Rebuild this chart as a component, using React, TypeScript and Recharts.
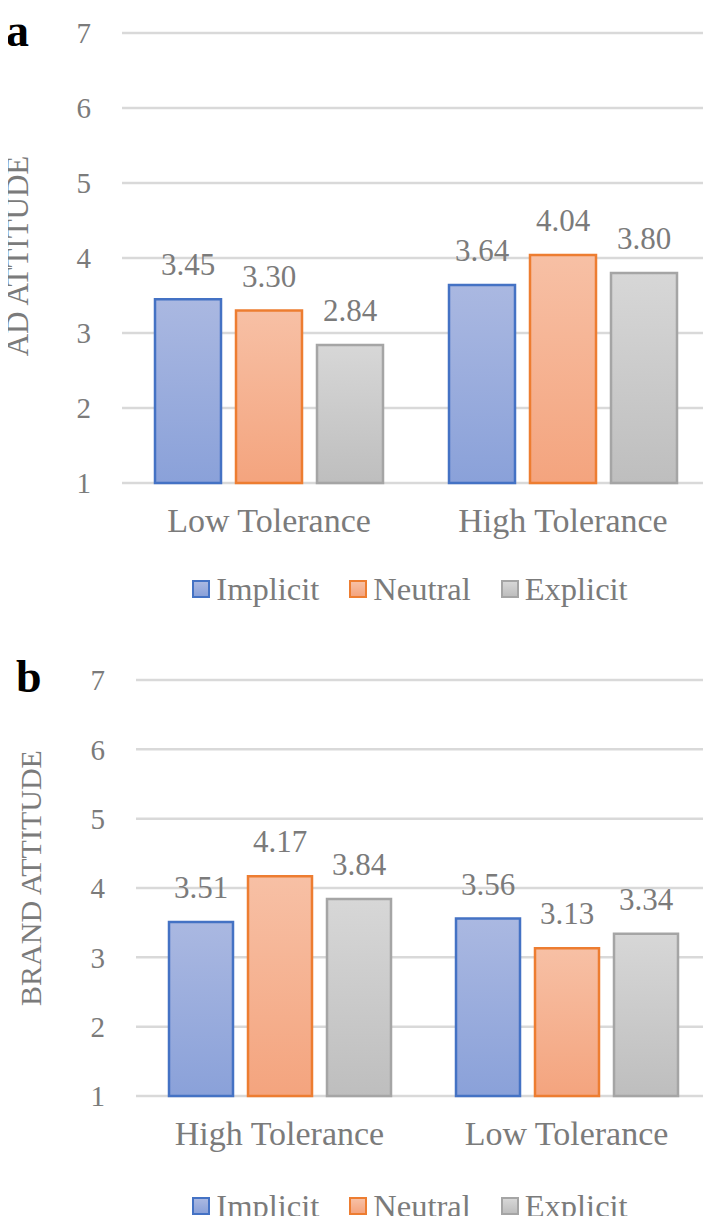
import { BarChart, Bar, XAxis, YAxis, CartesianGrid, Legend, LabelList } from 'recharts';

const SERIES = ['Implicit', 'Neutral', 'Explicit'];
const SERIES_KEYS = ['implicit', 'neutral', 'explicit'];

const A_CATEGORIES = ['Low Tolerance', 'High Tolerance'];
const A_IMPLICIT = [3.45, 3.64];
const A_NEUTRAL = [3.3, 4.04];
const A_EXPLICIT = [2.84, 3.8];

const B_CATEGORIES = ['High Tolerance', 'Low Tolerance'];
const B_IMPLICIT = [3.51, 3.56];
const B_NEUTRAL = [4.17, 3.13];
const B_EXPLICIT = [3.84, 3.34];

const Y_TICKS = [1, 2, 3, 4, 5, 6, 7];

const FONT = "'Liberation Serif', 'Times New Roman', serif";
const TEXT_COLOR = '#7b7b7b';
const STROKES = ['#4472c4', '#ed7d31', '#a5a5a5'];
const GRAD_TOP = ['#aab8e1', '#f7c0a5', '#d7d7d7'];
const GRAD_BOTTOM = ['#8aa1d9', '#f4a47e', '#bebebe'];

const toRows = (cats: string[], a: number[], b: number[], c: number[]) =>
  cats.map((name, i) => ({ name, implicit: a[i], neutral: b[i], explicit: c[i] }));

const A_ROWS = toRows(A_CATEGORIES, A_IMPLICIT, A_NEUTRAL, A_EXPLICIT);
const B_ROWS = toRows(B_CATEGORIES, B_IMPLICIT, B_NEUTRAL, B_EXPLICIT);

const Y_TICK_STYLE = { fill: TEXT_COLOR, fontSize: 29, fontFamily: FONT };
const X_TICK_STYLE = { fill: TEXT_COLOR, fontSize: 34, fontFamily: FONT };

function axisTitle(text: string, x: number, dy: number, size: number) {
  return (props: any) => {
    const vb = props.viewBox || {};
    const cy = (vb.y || 0) + (vb.height || 0) / 2 + dy;
    return (
      <text
        x={x}
        y={cy}
        transform={`rotate(-90 ${x} ${cy})`}
        textAnchor="middle"
        dominantBaseline="central"
        fill={TEXT_COLOR}
        fontSize={size}
        fontFamily={FONT}
      >
        {text}
      </text>
    );
  };
}

function SwatchLegend({ height, padTop }: { height: number; padTop: number }) {
  return (
    <div
      style={{
        display: 'flex',
        justifyContent: 'center',
        alignItems: 'center',
        gap: 30,
        height,
        paddingTop: padTop,
        boxSizing: 'border-box',
        fontFamily: FONT,
        fontSize: 32.5,
        color: TEXT_COLOR,
        whiteSpace: 'nowrap',
      }}
    >
      {SERIES.map((s, i) => (
        <span key={s} style={{ display: 'flex', alignItems: 'center' }}>
          <span
            style={{
              display: 'inline-block',
              width: 14,
              height: 14,
              border: `2.5px solid ${STROKES[i]}`,
              background: `linear-gradient(${GRAD_TOP[i]}, ${GRAD_BOTTOM[i]})`,
              marginRight: 6,
            }}
          />
          {s}
        </span>
      ))}
    </div>
  );
}

function Gradients({ prefix }: { prefix: string }) {
  return (
    <defs>
      {SERIES_KEYS.map((k, i) => (
        <linearGradient key={k} id={`${prefix}-${k}`} x1="0" y1="0" x2="0" y2="1">
          <stop offset="0%" stopColor={GRAD_TOP[i]} />
          <stop offset="100%" stopColor={GRAD_BOTTOM[i]} />
        </linearGradient>
      ))}
    </defs>
  );
}

interface PanelProps {
  id: string;
  rows: Record<string, string | number>[];
  height: number;
  marginTop: number;
  yAxisWidth: number;
  title: string;
  titleX: number;
  titleDy: number;
  titleSize: number;
  barSize: number;
  barGap: number;
  legendHeight: number;
  legendPad: number;
}

function Panel(p: PanelProps) {
  return (
    <BarChart
      width={711}
      height={p.height}
      data={p.rows}
      margin={{ top: p.marginTop, right: 1, left: 0, bottom: 0 }}
      barSize={p.barSize}
      barGap={p.barGap}
    >
      <Gradients prefix={p.id} />
      <CartesianGrid vertical={false} stroke="#d9d9d9" strokeWidth={2.5} />
      <XAxis
        dataKey="name"
        axisLine={false}
        tickLine={false}
        tickSize={0}
        tickMargin={25}
        height={70}
        tick={X_TICK_STYLE}
      />
      <YAxis
        domain={[1, 7]}
        ticks={Y_TICKS}
        interval={0}
        axisLine={false}
        tickLine={false}
        tickSize={0}
        tickMargin={31}
        width={p.yAxisWidth}
        tick={Y_TICK_STYLE}
        label={{ content: axisTitle(p.title, p.titleX, p.titleDy, p.titleSize) }}
      />
      <Legend
        verticalAlign="bottom"
        content={() => <SwatchLegend height={p.legendHeight} padTop={p.legendPad} />}
        wrapperStyle={{ left: 110, width: 600 }}
      />
      {SERIES_KEYS.map((k, i) => (
        <Bar
          key={k}
          dataKey={k}
          name={SERIES[i]}
          fill={`url(#${p.id}-${k})`}
          stroke={STROKES[i]}
          strokeWidth={2.5}
          isAnimationActive={false}
        >
          <LabelList
            dataKey={k}
            position="top"
            offset={24}
            formatter={(v: any) => Number(v).toFixed(2)}
            fill={TEXT_COLOR}
            fontSize={31}
            fontFamily={FONT}
          />
        </Bar>
      ))}
    </BarChart>
  );
}

export default function App() {
  return (
    <div style={{ position: 'relative', width: 711, height: 1224, margin: -8, background: '#fff' }}>
      <div style={{ position: 'absolute', left: 0, top: 0 }}>
        <Panel
          id="a"
          rows={A_ROWS}
          height={615}
          marginTop={33}
          yAxisWidth={122}
          title="AD ATTITUDE"
          titleX={17}
          titleDy={-2}
          titleSize={31}
          barSize={66}
          barGap={15}
          legendHeight={62}
          legendPad={10}
        />
      </div>
      <div style={{ position: 'absolute', left: 0, top: 615 }}>
        <Panel
          id="b"
          rows={B_ROWS}
          height={609}
          marginTop={65}
          yAxisWidth={136}
          title="BRAND ATTITUDE"
          titleX={30}
          titleDy={-10}
          titleSize={30}
          barSize={64}
          barGap={15}
          legendHeight={58}
          legendPad={22}
        />
      </div>
      <div
        style={{
          position: 'absolute',
          left: 6,
          top: 8,
          fontFamily: FONT,
          fontWeight: 'bold',
          fontSize: 46,
          lineHeight: '46px',
          color: '#000',
        }}
      >
        a
      </div>
      <div
        style={{
          position: 'absolute',
          left: 16,
          top: 654,
          fontFamily: FONT,
          fontWeight: 'bold',
          fontSize: 46,
          lineHeight: '46px',
          color: '#000',
        }}
      >
        b
      </div>
    </div>
  );
}
